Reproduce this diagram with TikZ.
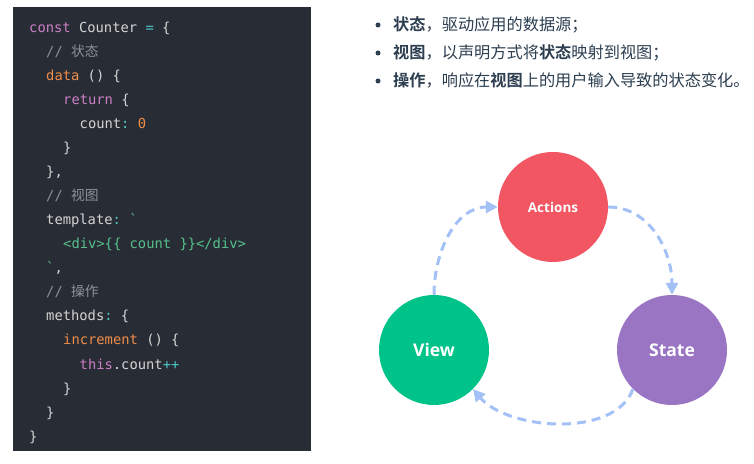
\documentclass[tikz,border=0pt]{standalone}
\usepackage{xcolor}
\usepackage{fontspec}
\usepackage{tikz}
\usetikzlibrary{shapes,arrows.meta,positioning,calc}

\setmonofont{DejaVu Sans Mono}
\newfontfamily\cjk{Noto Sans CJK SC}[BoldFont={Noto Sans CJK SC Bold}]
\newfontfamily\lab{Open Sans}

\definecolor{codebg}{HTML}{282C34}
\definecolor{codetx}{HTML}{D4D4D4}
\definecolor{codekw}{HTML}{CC7FC7}
\definecolor{codefn}{HTML}{F08D49}
\definecolor{codeop}{HTML}{4EC9C9}
\definecolor{codestr}{HTML}{56C08C}
\definecolor{codecm}{HTML}{8E9196}
\definecolor{bultx}{HTML}{2C3E50}
\definecolor{actred}{HTML}{F25662}
\definecolor{viewgreen}{HTML}{00C389}
\definecolor{statepurple}{HTML}{9975C4}
\definecolor{arrblue}{HTML}{A3C1F6}

\newcommand{\ckw}[1]{\textcolor{codekw}{#1}}
\newcommand{\cfn}[1]{\textcolor{codefn}{#1}}
\newcommand{\cop}[1]{\textcolor{codeop}{#1}}
\newcommand{\cstr}[1]{\textcolor{codestr}{#1}}
\newcommand{\ccm}[1]{\textcolor{codecm}{#1}}

\begin{document}
\begin{tikzpicture}[
    x=1pt, y=1pt,
    code/.style={anchor=base west, inner sep=0pt, text=codetx, font=\ttfamily\fontsize{13.8}{16}\selectfont},
    bul/.style={anchor=base west, inner sep=0pt, text=bultx, font=\cjk\fontsize{16.2}{18}\selectfont},
    dot/.style={circle, fill=bultx, inner sep=0pt, minimum size=5pt},
    c1/.style={circle, inner sep=0pt, minimum size=110pt, text=white, font=\lab\bfseries\fontsize{17.5}{20}\selectfont},
    arr/.style={-{Triangle[length=12pt,width=12pt]}, line width=3pt, draw=arrblue, dash pattern=on 9pt off 6pt}
]
    \useasboundingbox (0,0) rectangle (754,463);
    \fill [white] (0,0) rectangle (754,463);

    % code panel
    \fill [codebg] (13,12) rectangle (311,456);
    \node [code] (l1) at (29,430) {\ckw{const} Counter \cop{=} \{};
    \node [code] (l2) at (46,406) {\ccm{// {\cjk 状态}}};
    \node [code] (l3) at (46,382) {\cfn{data} () \{};
    \node [code] (l4) at (63,358) {\ckw{return} \{};
    \node [code] (l5) at (79.5,334) {count\cop{:} \cfn{0}};
    \node [code] (l6) at (63,310) {\}};
    \node [code] (l7) at (46,286) {\},};
    \node [code] (l8) at (46,262) {\ccm{// {\cjk 视图}}};
    \node [code] (l9) at (46,238) {template\cop{:} \cstr{`}};
    \node [code] (l10) at (63,214) {\cstr{<div>\{\{ count \}\}</div>}};
    \node [code] (l11) at (46,190) {\cstr{`},};
    \node [code] (l12) at (46,166) {\ccm{// {\cjk 操作}}};
    \node [code] (l13) at (46,142) {methods\cop{:} \{};
    \node [code] (l14) at (63,118) {\cfn{increment} () \{};
    \node [code] (l15) at (79.5,94) {\ckw{this}.count\cop{++}};
    \node [code] (l16) at (63,70) {\}};
    \node [code] (l17) at (46,46) {\}};
    \node [code] (l18) at (29,22) {\}};

    % bullet list
    \node [dot] (d1) at (378,438) {};
    \node [dot] (d2) at (378,410) {};
    \node [dot] (d3) at (378,382) {};
    \node [bul] (b1) at (393,432) {\textbf{状态}，驱动应用的数据源；};
    \node [bul] (b2) at (393,404) {\textbf{视图}，以声明方式将\textbf{状态}映射到视图；};
    \node [bul] (b3) at (393,376) {\textbf{操作}，响应在\textbf{视图}上的用户输入导致的状态变化。};

    % cycle
    \node [c1, fill=actred, font=\lab\bfseries\fontsize{13.5}{16}\selectfont] (act) at (553,256) {Actions};
    \node [c1, fill=viewgreen] (view) at (434,113) {View};
    \node [c1, fill=statepurple] (state) at (672,113) {State};

    \draw [arr] (view.north) to[out=90, in=180] (act.west);
    \draw [arr] (act.east) to[out=0, in=90] (state.north);
    \draw [arr] (state.south west) to[out=-110, in=-50, looseness=0.85] (view.south east);
\end{tikzpicture}
\end{document}
